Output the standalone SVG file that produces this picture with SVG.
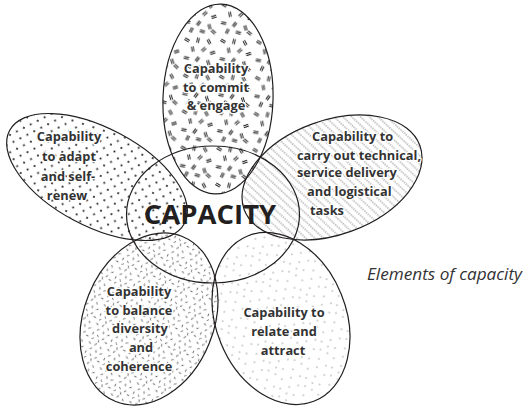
<svg xmlns="http://www.w3.org/2000/svg" width="525" height="406" viewBox="0 0 525 406">
  <style>
    .petal{stroke:#231f20;stroke-width:1.2}
    .ring{fill:none;stroke:#231f20;stroke-width:1.2}
    .label{font-family:"Open Sans","Liberation Sans",sans-serif;font-size:12.8px;font-weight:700;fill:#333;stroke:#fff;stroke-width:2.6;stroke-linejoin:round;paint-order:stroke;text-anchor:middle}
    .label.left{text-anchor:start}
    .title{font-family:"Open Sans","Liberation Sans",sans-serif;font-size:27.5px;font-weight:700;fill:#231f20;text-anchor:middle}
    .caption{font-family:"Open Sans","Liberation Sans",sans-serif;font-size:16px;font-style:italic;fill:#333}
  </style>
  <defs>
    <!-- pattern marks -->
    <path id="eq" d="M-2.6,-0.9H2.6M-2.6,0.9H2.6"/>
    <path id="dash" d="M-1.3,0H1.3"/>

    <!-- commit: scattered double strokes -->
    <pattern id="pCommit" width="36" height="36" patternUnits="userSpaceOnUse">
      <g fill="none" stroke="#1a1a1a" stroke-width="0.95">
        <use href="#eq" transform="translate(5 5) rotate(30)"/>
        <use href="#eq" transform="translate(16 5) rotate(100)"/>
        <use href="#eq" transform="translate(27 6) rotate(60)"/>
        <use href="#eq" transform="translate(11 14) rotate(80)"/>
        <use href="#eq" transform="translate(22 14) rotate(-45)"/>
        <use href="#eq" transform="translate(31 17) rotate(-20)"/>
        <use href="#eq" transform="translate(5 23) rotate(10)"/>
        <use href="#eq" transform="translate(16 24) rotate(125)"/>
        <use href="#eq" transform="translate(27 27) rotate(70)"/>
        <use href="#eq" transform="translate(9 31) rotate(-65)"/>
        <use href="#eq" transform="translate(20 32) rotate(15)"/>
        <use href="#eq" transform="translate(31 32) rotate(40)"/>
      </g>
    </pattern>

    <!-- adapt: staggered dot grid -->
    <pattern id="pAdapt" width="11" height="11" patternUnits="userSpaceOnUse" patternTransform="rotate(-10)">
      <g fill="#111">
        <circle cx="2" cy="2" r="1"/>
        <circle cx="7.5" cy="7.5" r="1"/>
      </g>
    </pattern>

    <!-- technical: dotted diagonal hatching -->
    <pattern id="pTech" width="6" height="12" patternUnits="userSpaceOnUse" patternTransform="rotate(-27)">
      <line x1="3" y1="0" x2="3" y2="12" stroke="#444" stroke-width="0.75" stroke-dasharray="1.2 1.2"/>
    </pattern>

    <!-- balance: dense random dashes -->
    <pattern id="pBalance" width="20" height="20" patternUnits="userSpaceOnUse">
      <g fill="none" stroke="#333" stroke-width="0.7">
        <use href="#dash" transform="translate(3 3) rotate(20)"/>
        <use href="#dash" transform="translate(9 2.5) rotate(110)"/>
        <use href="#dash" transform="translate(15 4) rotate(60)"/>
        <use href="#dash" transform="translate(6 8) rotate(-30)"/>
        <use href="#dash" transform="translate(12 9) rotate(80)"/>
        <use href="#dash" transform="translate(17.5 9.5) rotate(150)"/>
        <use href="#dash" transform="translate(2.5 13) rotate(95)"/>
        <use href="#dash" transform="translate(8 14) rotate(40)"/>
        <use href="#dash" transform="translate(14 15) rotate(-60)"/>
        <use href="#dash" transform="translate(18 17.5) rotate(10)"/>
        <use href="#dash" transform="translate(4 18) rotate(130)"/>
        <use href="#dash" transform="translate(10.5 18.5) rotate(70)"/>
      </g>
    </pattern>

    <!-- relate: sparse speckle -->
    <pattern id="pRelate" width="28" height="28" patternUnits="userSpaceOnUse">
      <g fill="#444">
        <circle cx="3" cy="4" r="0.6"/>
        <circle cx="12" cy="2" r="0.6"/>
        <circle cx="21" cy="6" r="0.6"/>
        <circle cx="7" cy="11" r="0.6"/>
        <circle cx="16" cy="13" r="0.6"/>
        <circle cx="25" cy="15" r="0.6"/>
        <circle cx="2" cy="19" r="0.6"/>
        <circle cx="11" cy="21" r="0.6"/>
        <circle cx="20" cy="23" r="0.6"/>
        <circle cx="6" cy="26" r="0.6"/>
        <circle cx="26" cy="26" r="0.6"/>
      </g>
    </pattern>
  </defs>

  <rect width="525" height="406" fill="#fff"/>

  <g id="commit">
    <ellipse class="petal" fill="url(#pCommit)" cx="218" cy="99" rx="55" ry="95" transform="rotate(2 218 99)"/>
    <text class="label" x="216" y="73">Capability</text>
    <text class="label" x="216" y="92">to commit</text>
    <text class="label" x="216" y="110">&amp; engage</text>
  </g>

  <g id="adapt">
    <ellipse class="petal" fill="url(#pAdapt)" cx="97" cy="177" rx="99" ry="49" transform="rotate(28 97 177)"/>
    <text class="label" x="69" y="141">Capability</text>
    <text class="label" x="69" y="161">to adapt</text>
    <text class="label" x="68" y="181">and self-</text>
    <text class="label" x="67" y="200">renew</text>
  </g>

  <g id="technical">
    <ellipse class="petal" fill="url(#pTech)" cx="332" cy="177.5" rx="93.5" ry="57" transform="rotate(-20 332 177.5)"/>
    <text class="label left" x="312" y="140.5">Capability to</text>
    <text class="label left" x="297" y="159.5">carry out technical,</text>
    <text class="label left" x="297" y="177">service delivery</text>
    <text class="label left" x="307" y="196">and logistical</text>
    <text class="label left" x="310" y="215">tasks</text>
  </g>

  <g id="balance">
    <ellipse class="petal" fill="url(#pBalance)" cx="149" cy="319" rx="65" ry="89" transform="rotate(22 149 319)"/>
    <text class="label" x="139" y="296">Capability</text>
    <text class="label" x="139" y="315">to balance</text>
    <text class="label" x="140" y="333">diversity</text>
    <text class="label" x="141" y="352">and</text>
    <text class="label" x="139" y="371">coherence</text>
  </g>

  <g id="relate">
    <ellipse class="petal" fill="url(#pRelate)" cx="281" cy="318.5" rx="65" ry="89" transform="rotate(-22 281 318.5)"/>
    <text class="label" x="284" y="317">Capability to</text>
    <text class="label" x="284" y="336">relate and</text>
    <text class="label" x="283" y="355">attract</text>
  </g>

  <g id="capacity">
    <ellipse class="ring" cx="213" cy="214.5" rx="86.5" ry="68.5"/>
    <text class="title" x="210" y="224">CAPACITY</text>
  </g>

  <text class="caption" x="367" y="280" textLength="155" lengthAdjust="spacingAndGlyphs">Elements of capacity</text>
</svg>
